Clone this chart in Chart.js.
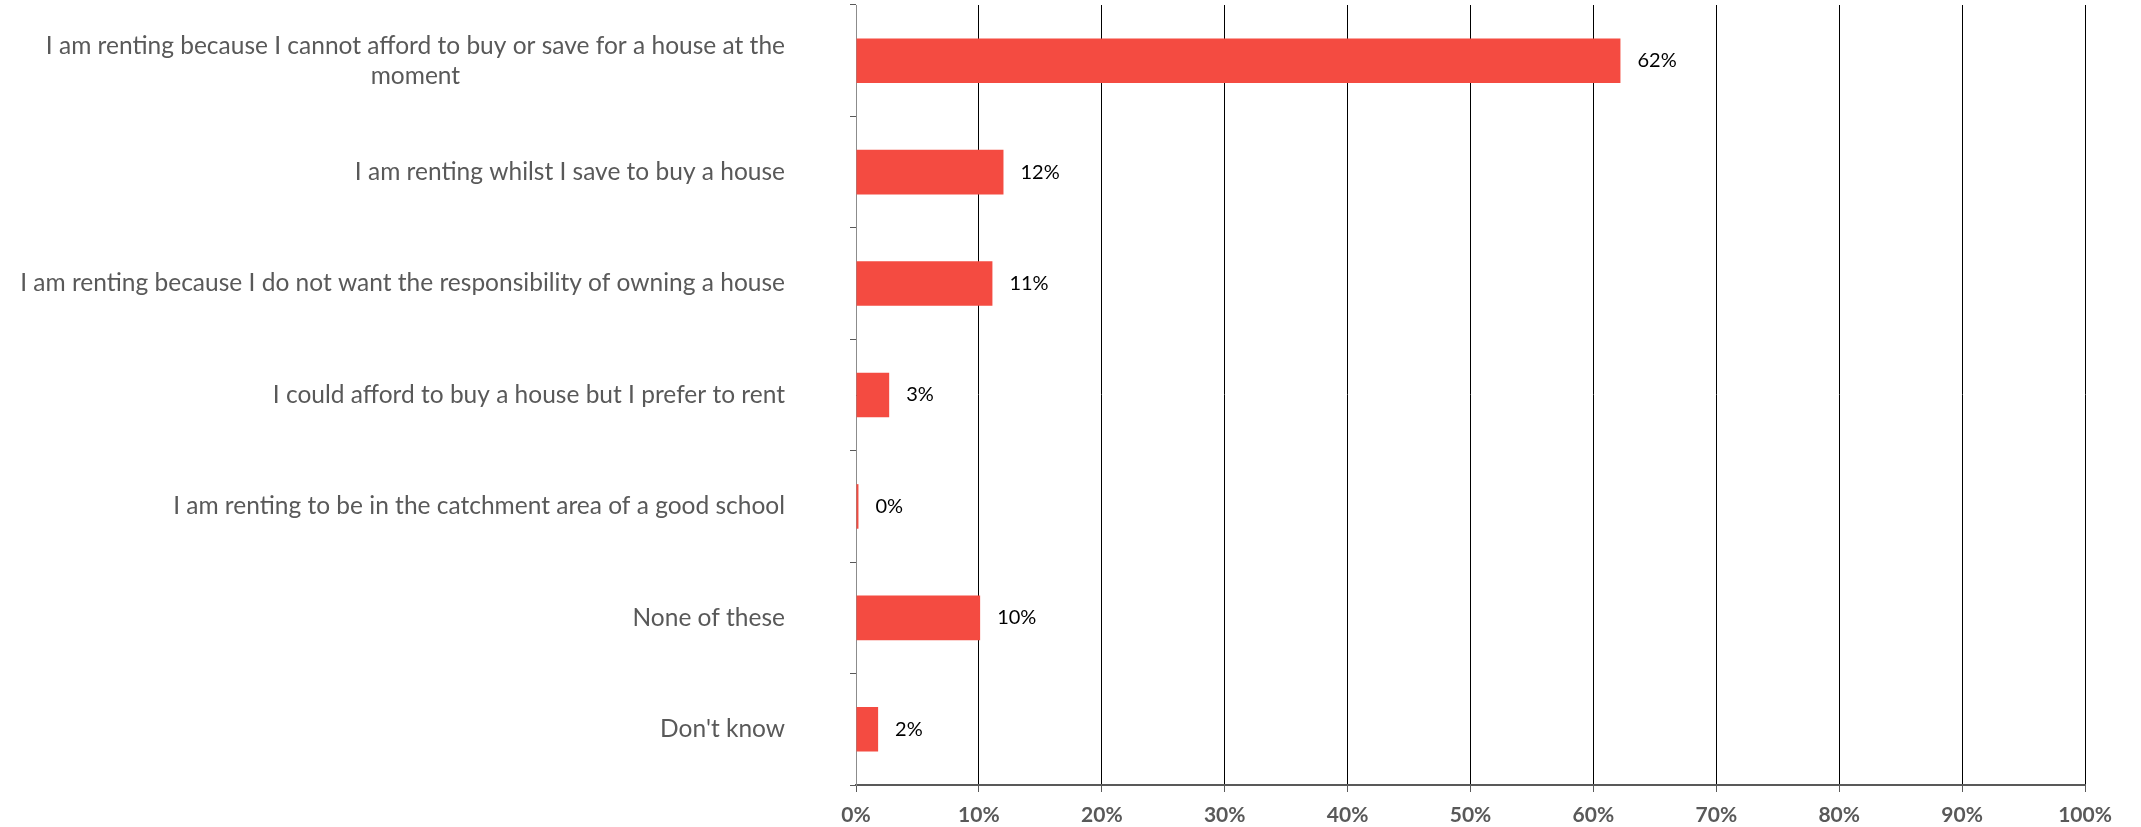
<!DOCTYPE html>
<html>
<head>
<meta charset="utf-8">
<script src="https://cdn.jsdelivr.net/npm/chart.js@4"></script>
<style>
  body { margin: 0; background: #fff; }
</style>
</head>
<body>
<canvas id="chart" width="2141" height="827"></canvas>
<script>
// answers, top to bottom
const categories = [
  ['I am renting because I cannot afford to buy or save for a house at the', 'moment'],
  'I am renting whilst I save to buy a house',
  'I am renting because I do not want the responsibility of owning a house',
  'I could afford to buy a house but I prefer to rent',
  'I am renting to be in the catchment area of a good school',
  'None of these',
  "Don't know"
];
const shares = [62.2, 12.0, 11.1, 2.7, 0.2, 10.1, 1.8];
const shareLabels = ['62%', '12%', '11%', '3%', '0%', '10%', '2%'];
const xTicks = [0, 10, 20, 30, 40, 50, 60, 70, 80, 90, 100];

const labelFont = '24.5px Lato';
const labelGap = 71;   // from text end to y axis

// category labels: block right aligned, lines centred inside it
const catLabels = {
  id: 'catLabels',
  afterDraw(chart) {
    const ctx = chart.ctx;
    const scale = chart.scales.y;
    ctx.save();
    ctx.font = labelFont;
    ctx.fillStyle = '#595959';
    ctx.textAlign = 'center';
    ctx.textBaseline = 'middle';
    categories.forEach((lab, i) => {
      const lines = Array.isArray(lab) ? lab : [lab];
      const w = Math.max(...lines.map(l => ctx.measureText(l).width));
      const cx = scale.right - labelGap - w / 2;
      const y0 = scale.getPixelForTick(i) - (lines.length - 1) * 15;
      lines.forEach((l, k) => ctx.fillText(l, cx, y0 + k * 30));
    });
    ctx.restore();
  }
};

// value labels at bar ends
const valueLabels = {
  id: 'valueLabels',
  afterDatasetsDraw(chart) {
    const ctx = chart.ctx;
    ctx.save();
    ctx.font = '20px Lato';
    ctx.fillStyle = '#000';
    ctx.textAlign = 'left';
    ctx.textBaseline = 'middle';
    chart.getDatasetMeta(0).data.forEach((bar, i) => {
      ctx.fillText(shareLabels[i], bar.x + 17, bar.y);
    });
    ctx.restore();
  }
};

new Chart(document.getElementById('chart'), {
  type: 'bar',
  data: {
    labels: categories,
    datasets: [{
      data: shares,
      backgroundColor: '#F44B41',
      barPercentage: 0.4,
      categoryPercentage: 1
    }]
  },
  options: {
    indexAxis: 'y',
    responsive: false,
    animation: false,
    layout: { padding: { top: 5, right: 56, bottom: 0, left: 0 } },
    plugins: {
      legend: { display: false },
      tooltip: { enabled: false }
    },
    scales: {
      x: {
        min: 0,
        max: 100,
        afterBuildTicks: (scale) => { scale.ticks = xTicks.map(v => ({ value: v })); },
        afterFit: (scale) => { scale.height = 42; },
        grid: { color: '#000', lineWidth: 1, tickLength: 7, tickColor: '#595959' },
        border: { color: '#595959', width: 2 },
        ticks: {
          callback: v => v + '%',
          color: '#595959',
          padding: 13,
          font: { family: 'Lato', size: 21, weight: 'bold', lineHeight: 1 },
          maxRotation: 0
        }
      },
      y: {
        afterFit: (scale) => { scale.width = 856; },
        grid: { drawOnChartArea: false, tickLength: 6, color: '#595959' },
        border: { color: '#8c8c8c', width: 1 },
        ticks: { display: false }
      }
    }
  },
  plugins: [catLabels, valueLabels]
});
</script>
</body>
</html>
